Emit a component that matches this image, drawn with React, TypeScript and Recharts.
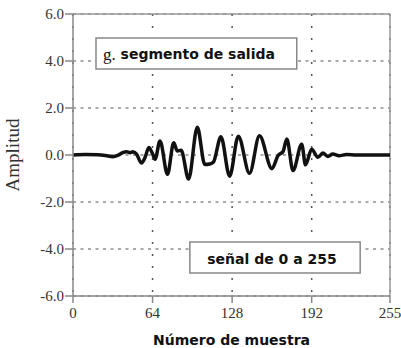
import React from 'react';
import {
  LineChart,
  Line,
  XAxis,
  YAxis,
  CartesianGrid,
  ReferenceLine,
  ReferenceArea,
  Label,
} from 'recharts';

const sampleIndex = [
  0, 10, 20, 26, 32, 36, 40, 43, 46, 48, 51, 55, 58, 61, 64, 66, 70, 76, 81, 84,
  87, 93, 100, 106, 110, 113, 119, 126, 133, 142, 150, 160, 165, 169, 172, 177,
  184, 187, 192, 197, 201, 205, 209, 214, 220, 228, 240, 255,
];
const amplitude = [
  0, 0.02, 0.01, -0.02, -0.07, -0.02, 0.1, 0.14, 0.1, 0.14, 0.05, -0.34, -0.1,
  0.32, 0.05, -0.18, 0.6, -0.82, 0.52, 0.17, 0.2, -1.02, 1.18, -0.4, -0.38,
  -0.3, 0.78, -0.9, 0.8, -0.78, 0.82, -0.58, -0.02, 0.15, 0.68, -0.66, 0.46,
  -0.42, 0.25, -0.1, 0.08, -0.06, 0.04, -0.03, 0.02, 0, 0, 0,
];
const xTicks = [0, 64, 128, 192, 255];
const yTicks = [-6, -4, -2, 0, 2, 4, 6];
const titlePrefix = 'g.';
const titleText = ' segmento de salida';
const noteText = 'señal de 0 a 255';
const xLabel = 'Número de muestra';
const yLabel = 'Amplitud';

const data = sampleIndex.map((n, i) => ({ n, v: amplitude[i] }));

const serifFont = '"Liberation Serif", "DejaVu Serif", serif';
const sansFont = '"DejaVu Sans", Verdana, sans-serif';

const XTick = (props: any) => {
  const { x, y, payload } = props;
  return (
    <text
      x={x}
      y={y + 11}
      textAnchor="middle"
      style={{ fontFamily: serifFont, fontSize: 15, fill: '#333' }}
    >
      {String(payload.value)}
    </text>
  );
};

const YTick = (props: any) => {
  const { x, y, payload } = props;
  return (
    <text
      x={x}
      y={y + 5}
      textAnchor="end"
      style={{ fontFamily: serifFont, fontSize: 15, fill: '#333' }}
    >
      {Number(payload.value).toFixed(1)}
    </text>
  );
};

const TitleLabel = (props: any) => {
  const vb = props.viewBox || {};
  return (
    <text
      x={vb.x + 7}
      y={vb.y + vb.height / 2 + 1}
      dominantBaseline="central"
      style={{ fontFamily: sansFont, fontSize: 14, fontWeight: 'bold', fill: '#111' }}
    >
      <tspan style={{ fontFamily: serifFont, fontWeight: 'normal', fontSize: 17 }}>
        {titlePrefix}
      </tspan>
      <tspan>{titleText}</tspan>
    </text>
  );
};

const NoteLabel = (props: any) => {
  const vb = props.viewBox || {};
  return (
    <text
      x={vb.x + vb.width / 2 - 3}
      y={vb.y + vb.height / 2 + 2}
      dominantBaseline="central"
      textAnchor="middle"
      style={{ fontFamily: sansFont, fontSize: 14, fontWeight: 'bold', fill: '#111' }}
    >
      {noteText}
    </text>
  );
};

export default function App() {
  return (
    <div style={{ position: 'absolute', left: 0, top: 0, width: 401, height: 348, background: '#fff' }}>
      <LineChart
        width={401}
        height={348}
        data={data}
        margin={{ top: 14, right: 11, bottom: 0, left: 0 }}
      >
        <CartesianGrid
          horizontal={true}
          vertical={false}
          stroke="#555"
          strokeDasharray="3 4.5"
          strokeWidth={1.2}
        />
        <CartesianGrid
          horizontal={false}
          vertical={true}
          stroke="#555"
          strokeDasharray="2 10"
          strokeWidth={1.5}
        />
        <XAxis
          dataKey="n"
          type="number"
          domain={[0, 255]}
          ticks={xTicks}
          interval={0}
          height={52}
          tickSize={7}
          tickMargin={4}
          tick={<XTick />}
          stroke="#888"
          strokeWidth={1.5}
        >
          <Label
            value={xLabel}
            position="insideBottom"
            offset={3}
            style={{ fontFamily: sansFont, fontSize: 14, fontWeight: 'bold', fill: '#111' }}
          />
        </XAxis>
        <YAxis
          type="number"
          domain={[-6, 6]}
          ticks={yTicks}
          interval={0}
          width={73}
          tickSize={8}
          tickMargin={1}
          tick={<YTick />}
          stroke="#888"
          strokeWidth={1.5}
        >
          <Label
            value={yLabel}
            angle={-90}
            position="insideLeft"
            offset={12}
            style={{
              fontFamily: serifFont,
              fontSize: 19,
              fill: '#333',
              textAnchor: 'middle',
            }}
          />
        </YAxis>
        <ReferenceLine y={6} stroke="#999" strokeWidth={1.5} />
        <ReferenceLine x={255} stroke="#999" strokeWidth={1.5} />
        <ReferenceArea
          x1={18.5}
          x2={180}
          y1={3.66}
          y2={4.98}
          fill="#fff"
          fillOpacity={1}
          stroke="#888"
          strokeWidth={1.5}
          label={<TitleLabel />}
        />
        <ReferenceArea
          x1={94}
          x2={231}
          y1={-5.02}
          y2={-3.7}
          fill="#fff"
          fillOpacity={1}
          stroke="#888"
          strokeWidth={1.5}
          label={<NoteLabel />}
        />
        <Line
          type="monotone"
          dataKey="v"
          stroke="#111"
          strokeWidth={3.5}
          dot={false}
          isAnimationActive={false}
        />
      </LineChart>
    </div>
  );
}
